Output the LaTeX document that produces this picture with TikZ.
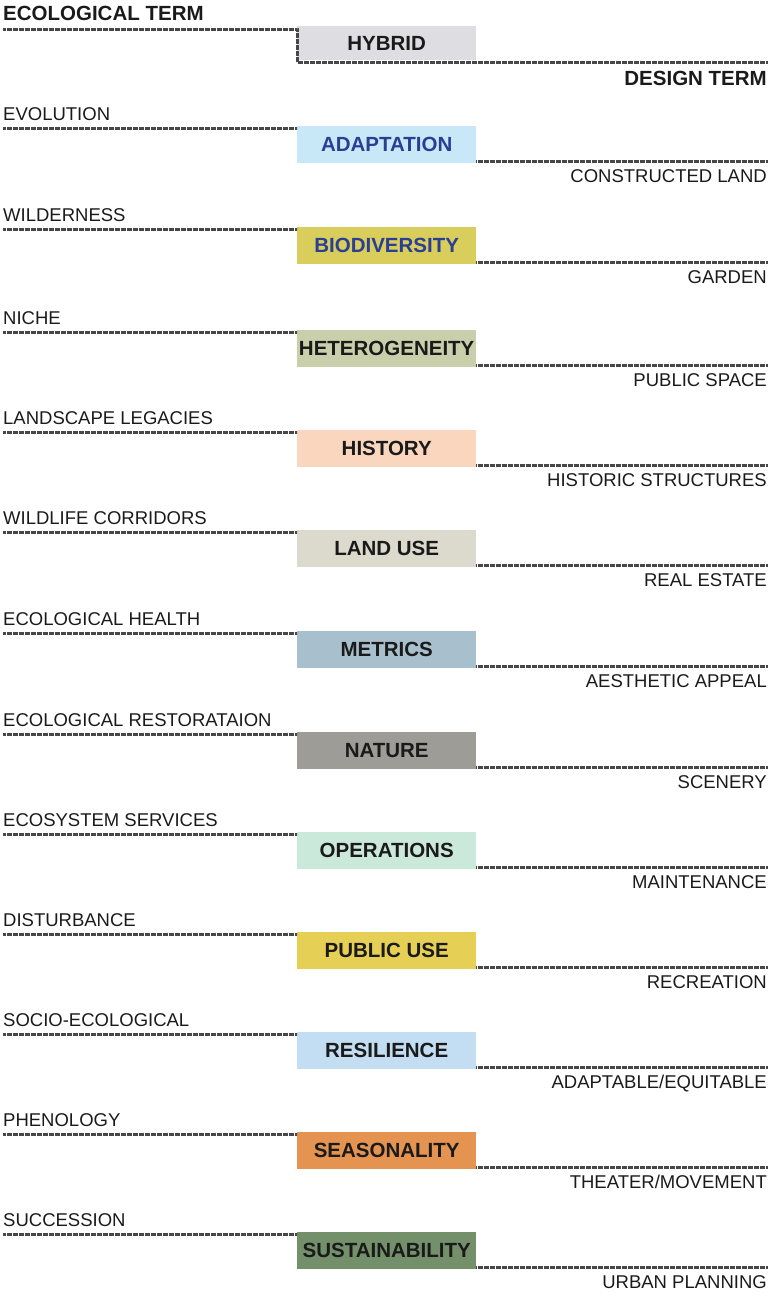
\documentclass[tikz,border=0pt]{standalone}
\usepackage{fontspec}
\setmainfont{Liberation Sans}
\definecolor{hyb}{HTML}{DDDDE2}
\definecolor{c1}{HTML}{C8E8F8}
\definecolor{c2}{HTML}{D9CD5B}
\definecolor{c3}{HTML}{C9CFAA}
\definecolor{c4}{HTML}{F9D6BD}
\definecolor{c5}{HTML}{DCDACD}
\definecolor{c6}{HTML}{A8C0CE}
\definecolor{c7}{HTML}{9D9C97}
\definecolor{c8}{HTML}{CBE9DA}
\definecolor{c9}{HTML}{E6CF55}
\definecolor{c10}{HTML}{C3DDF2}
\definecolor{c11}{HTML}{E49450}
\definecolor{c12}{HTML}{73906A}
\definecolor{blu}{HTML}{2A3F94}
\definecolor{blk}{HTML}{1A1A1A}
\begin{document}
\begin{tikzpicture}[x=1pt,y=-1pt,
  hatch/.style={draw=black!72, line width=3pt, dash pattern=on 0.55pt off 0.65pt},
  term/.style={inner sep=0pt, text=blk, font=\fontsize{18.5}{20}\selectfont},
  head/.style={inner sep=0pt, text=blk, font=\bfseries\fontsize{20.5}{22}\selectfont},
  tbox/.style={minimum width=179pt, minimum height=37pt, inner sep=0pt,
    font=\bfseries\fontsize{20.5}{22}\selectfont}]
\useasboundingbox (0,0) rectangle (773,1299);
% header row
\node[tbox, fill=hyb, text=blk, minimum height=34pt, anchor=north west] (hyb) at (297,26) {HYBRID};
\coordinate (ht) at (3,29);
\coordinate (hb) at (767,62);
\draw[hatch] (ht) -- (ht -| hyb.west) -- (hyb.west |- hb) -- (hb);
\node[head, anchor=base west] (eco) at (3,20) {ECOLOGICAL TERM};
\node[head, anchor=base east] (des) at (767,85) {DESIGN TERM};
% rows
\foreach \k/\t/\n/\tc/\L/\R in {
  1/126/ADAPTATION/blu/{EVOLUTION}/{CONSTRUCTED LAND},
  2/227/BIODIVERSITY/blu/{WILDERNESS}/{GARDEN},
  3/330/HETEROGENEITY/blk/{NICHE}/{PUBLIC SPACE},
  4/430/HISTORY/blk/{LANDSCAPE LEGACIES}/{HISTORIC STRUCTURES},
  5/530/{LAND USE}/blk/{WILDLIFE CORRIDORS}/{REAL ESTATE},
  6/631/METRICS/blk/{ECOLOGICAL HEALTH}/{AESTHETIC APPEAL},
  7/732/NATURE/blk/{ECOLOGICAL RESTORATAION}/{SCENERY},
  8/832/OPERATIONS/blk/{ECOSYSTEM SERVICES}/{MAINTENANCE},
  9/932/{PUBLIC USE}/blk/{DISTURBANCE}/{RECREATION},
  10/1032/RESILIENCE/blk/{SOCIO-ECOLOGICAL}/{ADAPTABLE/EQUITABLE},
  11/1132/SEASONALITY/blk/{PHENOLOGY}/{THEATER/MOVEMENT},
  12/1232/SUSTAINABILITY/blk/{SUCCESSION}/{URBAN PLANNING}}
{
  \node[tbox, fill=c\k, text=\tc, anchor=north west] (b\k) at (297,\t) {\n};
  \coordinate (l\k) at (3,\t+2);
  \coordinate (r\k) at (767,\t+35);
  \draw[hatch] (l\k) -- (l\k -| b\k.west);
  \draw[hatch] (r\k -| b\k.east) -- (r\k);
  \node[term, anchor=base west] (lt\k) at (3,\t-6) {\L};
  \node[term, anchor=base east] (rt\k) at (767,\t+56) {\R};
}
\end{tikzpicture}
\end{document}
